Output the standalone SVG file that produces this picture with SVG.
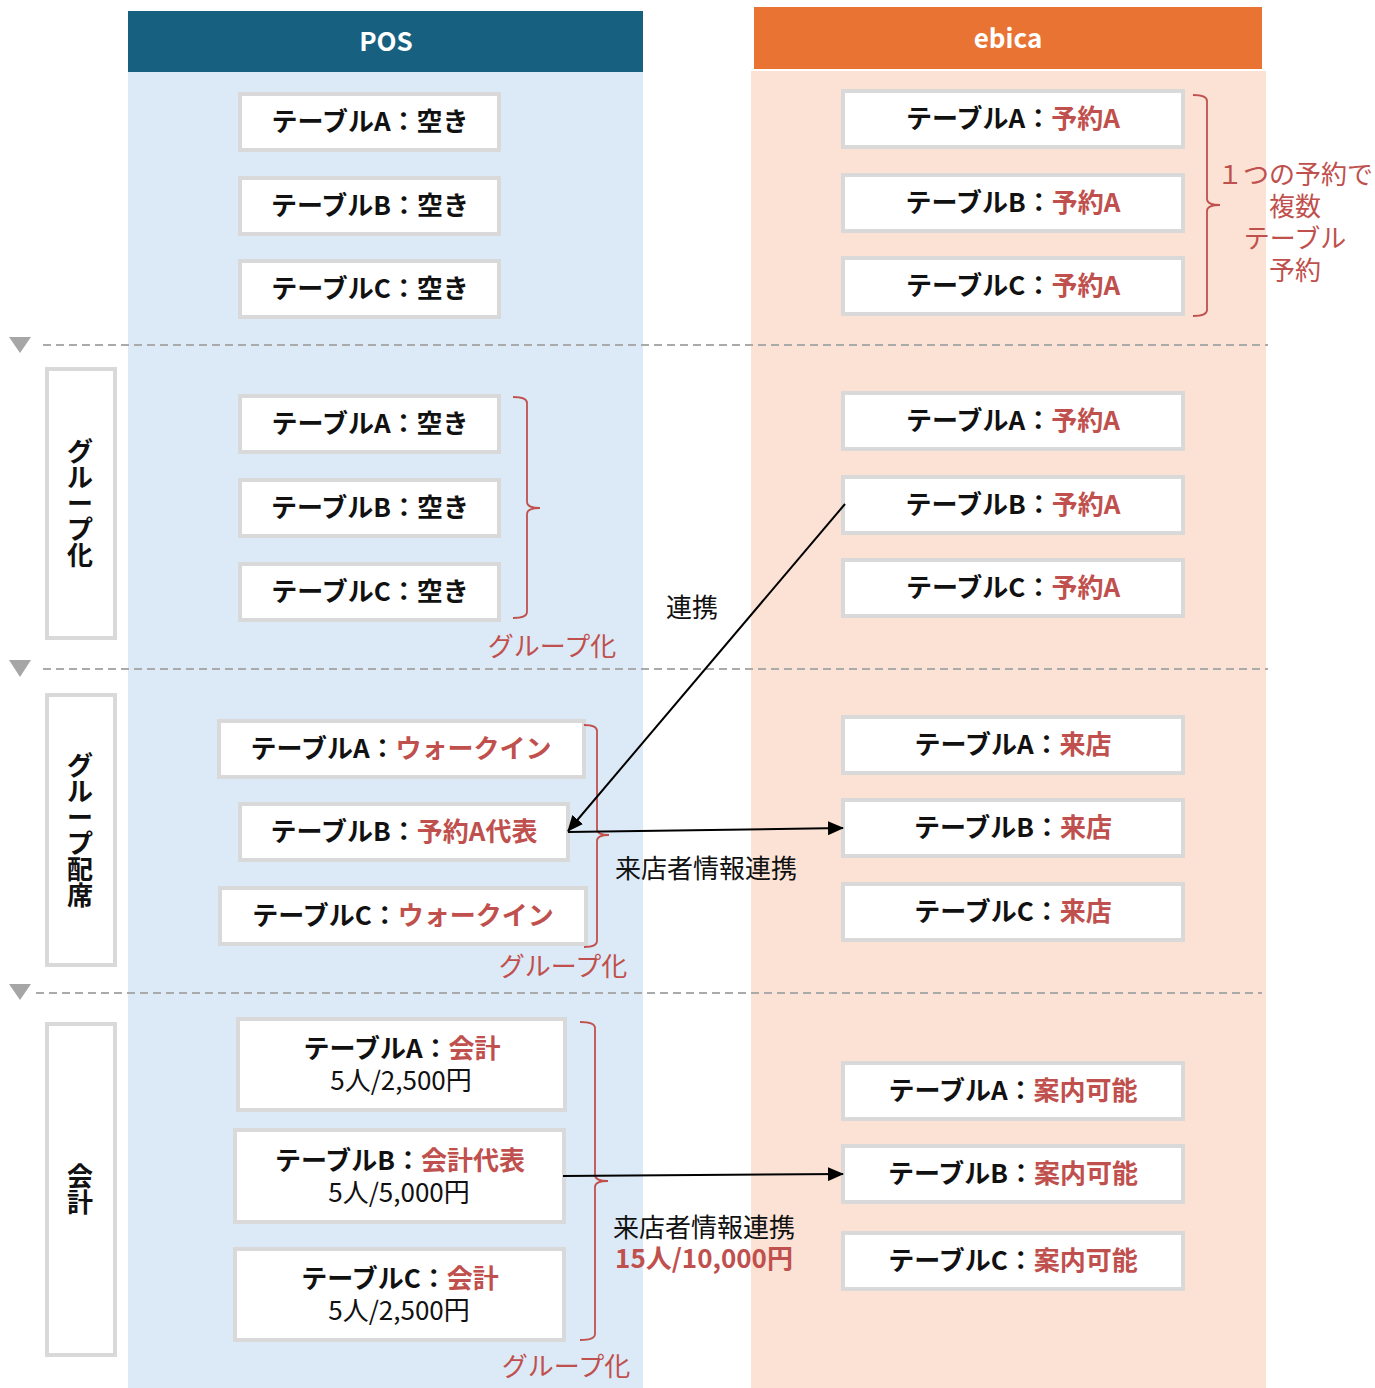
<svg xmlns="http://www.w3.org/2000/svg" width="1375" height="1388" viewBox="0 0 1375 1388">
<style>
text{font-family:"Noto Sans CJK JP","Noto Sans",sans-serif;font-size:26px;}
.b{font-weight:700;fill:#111;}
.r{fill:#C0504D;}
.rb{fill:#C0504D;font-weight:700;}
.n{fill:#111;font-weight:400;}
.box{fill:#fff;stroke:#D9D9D9;stroke-width:4;}
.brace{fill:none;stroke:#C0504D;stroke-width:1.8;}
.dash{stroke:#AAAAAA;stroke-width:2;stroke-dasharray:8 5;}
.tri{fill:#A6A6A6;}
.hd{fill:#fff;font-weight:700;}
.conn{stroke:#000;stroke-width:2;fill:none;}
.m{text-anchor:middle;}
</style>
<defs>
<marker id="ah" markerWidth="16" markerHeight="14" refX="15" refY="7" orient="auto" markerUnits="userSpaceOnUse">
<path d="M0,0 L16,7 L0,14 z" fill="#000"/>
</marker>
</defs>
<rect width="1375" height="1388" fill="#fff"/>
<g id="pos-column">
<rect x="128" y="72" width="515" height="1316" fill="#DCE9F6"/>
<rect x="128" y="11" width="515" height="61" fill="#17607F"/>
<text class="hd m" x="386" y="51">POS</text>
</g>
<g id="ebica-column">
<rect x="751" y="71" width="515" height="1317" fill="#FBE2D5"/>
<rect x="754" y="7" width="508" height="62" fill="#E87333"/>
<text class="hd m" x="1008" y="48">ebica</text>
</g>
<g id="separators">
<line class="dash" x1="43" y1="345" x2="1268" y2="345"/>
<line class="dash" x1="43" y1="669" x2="1268" y2="669"/>
<line class="dash" x1="36" y1="993" x2="1262" y2="993"/>
<polygon class="tri" points="9,337 31,337 20,353"/>
<polygon class="tri" points="9,660 31,660 20,677"/>
<polygon class="tri" points="9,984 31,984 20,1000"/>
</g>
<g id="step-labels">
<g id="step-group">
<rect class="box" x="47" y="369" width="68" height="269"/>
<text class="b m"><tspan x="80" y="461">グ</tspan><tspan x="80" y="487">ル</tspan><tspan x="80" y="513">ー</tspan><tspan x="80" y="539">プ</tspan><tspan x="80" y="565">化</tspan></text>
</g>
<g id="step-seat">
<rect class="box" x="47" y="695" width="68" height="270"/>
<text class="b m"><tspan x="80" y="775">グ</tspan><tspan x="80" y="801">ル</tspan><tspan x="80" y="827">ー</tspan><tspan x="80" y="853">プ</tspan><tspan x="80" y="879">配</tspan><tspan x="80" y="905">席</tspan></text>
</g>
<g id="step-pay">
<rect class="box" x="47" y="1024" width="68" height="331"/>
<text class="b m"><tspan x="80" y="1186">会</tspan><tspan x="80" y="1212">計</tspan></text>
</g>
</g>
<!-- Section 1 -->
<g id="pos1-a"><rect class="box" x="240" y="94" width="259" height="56"/><text class="b m" x="370" y="131">テーブルA：空き</text></g>
<g id="pos1-b"><rect class="box" x="240" y="178" width="259" height="56"/><text class="b m" x="370" y="215">テーブルB：空き</text></g>
<g id="pos1-c"><rect class="box" x="240" y="261" width="259" height="56"/><text class="b m" x="370" y="298">テーブルC：空き</text></g>
<g id="eb1-a"><rect class="box" x="843" y="91" width="340" height="56"/><text class="b m" x="1013" y="128">テーブルA：<tspan class="rb">予約A</tspan></text></g>
<g id="eb1-b"><rect class="box" x="843" y="175" width="340" height="56"/><text class="b m" x="1013" y="212">テーブルB：<tspan class="rb">予約A</tspan></text></g>
<g id="eb1-c"><rect class="box" x="843" y="258" width="340" height="56"/><text class="b m" x="1013" y="295">テーブルC：<tspan class="rb">予約A</tspan></text></g>
<g id="eb1-note">
<path class="brace" d="M1193,95 Q1207,95 1207,101 L1207,199 Q1207,205 1220,205 Q1207,205 1207,211 L1207,310 Q1207,316 1193,316"/>
<text class="r m"><tspan x="1295" y="184">１つの予約で</tspan><tspan x="1295" y="216">複数</tspan><tspan x="1295" y="248">テーブル</tspan><tspan x="1295" y="280">予約</tspan></text>
</g>
<!-- Section 2 -->
<g id="pos2-a"><rect class="box" x="240" y="396" width="259" height="56"/><text class="b m" x="370" y="433">テーブルA：空き</text></g>
<g id="pos2-b"><rect class="box" x="240" y="480" width="259" height="56"/><text class="b m" x="370" y="517">テーブルB：空き</text></g>
<g id="pos2-c"><rect class="box" x="240" y="564" width="259" height="56"/><text class="b m" x="370" y="601">テーブルC：空き</text></g>
<g id="pos2-group">
<path class="brace" d="M513,397 Q527,397 527,403 L527,502 Q527,508 540,508 Q527,508 527,514 L527,612 Q527,618 513,618"/>
<text class="r m" x="552" y="656">グループ化</text>
</g>
<g id="eb2-a"><rect class="box" x="843" y="393" width="340" height="56"/><text class="b m" x="1013" y="430">テーブルA：<tspan class="rb">予約A</tspan></text></g>
<g id="eb2-b"><rect class="box" x="843" y="477" width="340" height="56"/><text class="b m" x="1013" y="514">テーブルB：<tspan class="rb">予約A</tspan></text></g>
<g id="eb2-c"><rect class="box" x="843" y="560" width="340" height="56"/><text class="b m" x="1013" y="597">テーブルC：<tspan class="rb">予約A</tspan></text></g>
<!-- Section 3 -->
<g id="pos3-a"><rect class="box" x="219" y="721" width="365" height="56"/><text class="b m" x="401" y="758">テーブルA：<tspan class="rb">ウォークイン</tspan></text></g>
<g id="pos3-b"><rect class="box" x="240" y="804" width="328" height="56"/><text class="b m" x="404" y="841">テーブルB：<tspan class="rb">予約A代表</tspan></text></g>
<g id="pos3-c"><rect class="box" x="220" y="888" width="366" height="56"/><text class="b m" x="403" y="925">テーブルC：<tspan class="rb">ウォークイン</tspan></text></g>
<g id="pos3-group">
<path class="brace" d="M584,725 Q597,725 597,731 L597,829 Q597,835 609,835 Q597,835 597,841 L597,941 Q597,947 584,947"/>
<text class="r m" x="563" y="976">グループ化</text>
</g>
<g id="eb3-a"><rect class="box" x="843" y="717" width="340" height="56"/><text class="b m" x="1013" y="754">テーブルA：<tspan class="rb">来店</tspan></text></g>
<g id="eb3-b"><rect class="box" x="843" y="800" width="340" height="56"/><text class="b m" x="1013" y="837">テーブルB：<tspan class="rb">来店</tspan></text></g>
<g id="eb3-c"><rect class="box" x="843" y="884" width="340" height="56"/><text class="b m" x="1013" y="921">テーブルC：<tspan class="rb">来店</tspan></text></g>
<!-- Section 4 -->
<g id="pos4-a"><rect class="box" x="238" y="1019" width="327" height="91"/><text class="b m" x="402" y="1058">テーブルA：<tspan class="rb">会計</tspan></text><text class="n m" x="401" y="1090">5人/2,500円</text></g>
<g id="pos4-b"><rect class="box" x="235" y="1130" width="329" height="92"/><text class="b m" x="400" y="1170">テーブルB：<tspan class="rb">会計代表</tspan></text><text class="n m" x="399" y="1202">5人/5,000円</text></g>
<g id="pos4-c"><rect class="box" x="235" y="1249" width="329" height="91"/><text class="b m" x="400" y="1288">テーブルC：<tspan class="rb">会計</tspan></text><text class="n m" x="399" y="1320">5人/2,500円</text></g>
<g id="pos4-group">
<path class="brace" d="M580,1022 Q595,1022 595,1028 L595,1175 Q595,1181 608,1181 Q595,1181 595,1187 L595,1334 Q595,1340 580,1340"/>
<text class="r m" x="566" y="1376">グループ化</text>
</g>
<g id="eb4-a"><rect class="box" x="843" y="1063" width="340" height="56"/><text class="b m" x="1013" y="1100">テーブルA：<tspan class="rb">案内可能</tspan></text></g>
<g id="eb4-b"><rect class="box" x="843" y="1146" width="340" height="56"/><text class="b m" x="1013" y="1183">テーブルB：<tspan class="rb">案内可能</tspan></text></g>
<g id="eb4-c"><rect class="box" x="843" y="1233" width="340" height="56"/><text class="b m" x="1013" y="1270">テーブルC：<tspan class="rb">案内可能</tspan></text></g>
<g id="connectors">
<path class="conn" d="M845,504 L568,831" marker-end="url(#ah)"/>
<path class="conn" d="M568,832 L843,828" marker-end="url(#ah)"/>
<path class="conn" d="M563,1176 L843,1174" marker-end="url(#ah)"/>
<text class="n m" x="692" y="617">連携</text>
<text class="n m" x="706" y="878">来店者情報連携</text>
<text class="n m" x="704" y="1237">来店者情報連携</text>
<text class="rb m" x="704" y="1268">15人/10,000円</text>
</g>
</svg>
